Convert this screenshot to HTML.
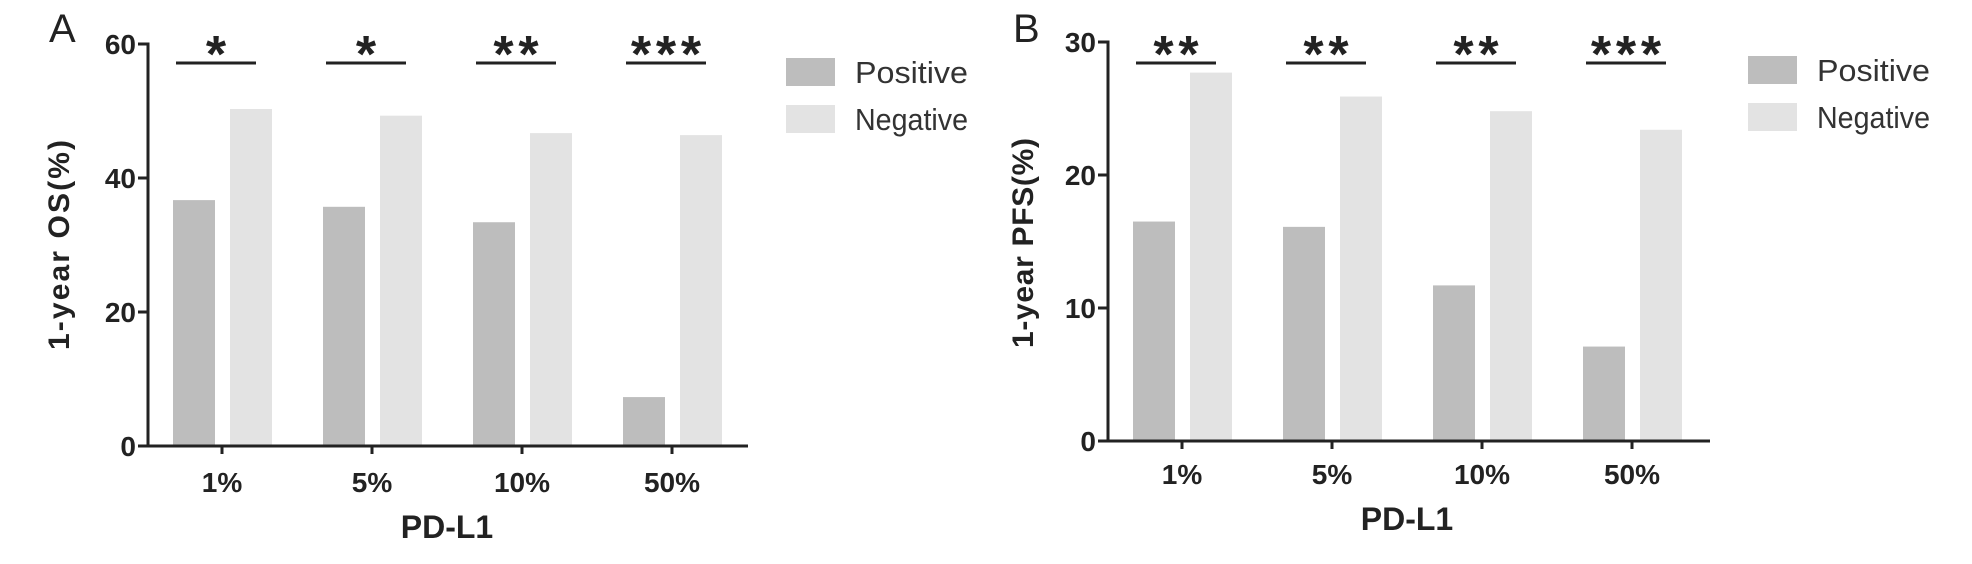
<!DOCTYPE html>
<html><head><meta charset="utf-8">
<style>
html,body{margin:0;padding:0;background:#fff;}
svg{display:block;font-family:"Liberation Sans",Arial,sans-serif;}
</style></head>
<body>
<svg id="chart" width="1972" height="564" viewBox="0 0 1972 564"></svg>
<script>
const categories = ["1%", "5%", "10%", "50%"];
const osPositive = [36.7, 35.7, 33.4, 7.3];
const osNegative = [50.3, 49.3, 46.7, 46.4];
const pfsPositive = [16.5, 16.1, 11.7, 7.1];
const pfsNegative = [27.7, 25.9, 24.8, 23.4];
const osStars = ["*", "*", "**", "***"];
const pfsStars = ["**", "**", "**", "***"];
const osTicks = [0, 20, 40, 60];
const pfsTicks = [0, 10, 20, 30];

const NS = "http://www.w3.org/2000/svg";
const svg = document.getElementById("chart");
function mk(tag, attrs, parent) {
  const e = document.createElementNS(NS, tag);
  for (const k in attrs) e.setAttribute(k, attrs[k]);
  (parent || svg).appendChild(e);
  return e;
}

function panel(cfg) {
  const g = mk("g", {});
  
  
  const yScale = v => cfg.y0 - (v / cfg.yMax) * (cfg.y0 - cfg.yTop);
  const xTick = i => cfg.firstTick + i * cfg.step;

  const L = mk("text", {x: cfg.letterX, y: 42, "font-size": 40, fill: "#222"}, g);
  L.textContent = cfg.letter;
  
  

  categories.forEach((c, i) => {
    const t = xTick(i);
    const bp = mk("rect", {x: t - 49, y: yScale(cfg.pos[i]), width: 42, height: cfg.y0 - yScale(cfg.pos[i]), fill: "#bdbdbd"}, g);
    
    
    const bn = mk("rect", {x: t + 8, y: yScale(cfg.neg[i]), width: 42, height: cfg.y0 - yScale(cfg.neg[i]), fill: "#e3e3e3"}, g);
    
    

    const sl = mk("line", {x1: t - 46, x2: t + 34, y1: 63, y2: 63, stroke: "#222", "stroke-width": 3}, g);
    
    
    const n = cfg.stars[i].length;
    for (let k = 0; k < n; k++) {
      const cx = t - 6 + (k - (n - 1) / 2) * 25;
      const s = mk("text", {x: cx, y: 72, "font-size": 52, "font-weight": "bold", "text-anchor": "middle", fill: "#222"}, g);
      s.textContent = "*";
      
      
    }

    const xt = mk("line", {x1: t, x2: t, y1: cfg.y0, y2: cfg.y0 + 8, stroke: "#222", "stroke-width": 3}, g);
    
    
    const xl = mk("text", {x: t, y: cfg.xLabY, "font-size": 28, "font-weight": "bold", "text-anchor": "middle", fill: "#222"}, g);
    xl.textContent = c;
    
    
  });

  const ya = mk("line", {x1: cfg.axisX, x2: cfg.axisX, y1: cfg.yTop - 1.5, y2: cfg.y0 + 1.5, stroke: "#222", "stroke-width": 3}, g);
  
  
  const xa = mk("line", {x1: cfg.axisX - 10, x2: cfg.xEnd, y1: cfg.y0, y2: cfg.y0, stroke: "#222", "stroke-width": 3}, g);
  
  

  cfg.ticks.forEach(v => {
    const y = yScale(v);
    const tk = mk("line", {x1: cfg.axisX - 10, x2: cfg.axisX, y1: y, y2: y, stroke: "#222", "stroke-width": 3}, g);
    
    
    const tl = mk("text", {x: cfg.axisX - 12, y: y + 10, "font-size": 28, "font-weight": "bold", "text-anchor": "end", fill: "#222"}, g);
    tl.textContent = v;
    
    
  });

  const yt = mk("text", {x: 0, y: 0, "font-size": 30, "font-weight": "bold", "text-anchor": "middle", fill: "#222",
    transform: "translate(" + (cfg.yTitleX + 11) + "," + cfg.yTitleY + ") rotate(-90)", textLength: 210, lengthAdjust: "spacing"}, g);
  yt.textContent = cfg.yTitle;
  
  
  const xT = mk("text", {x: cfg.firstTick + 1.5 * cfg.step, y: cfg.xTitleY, "font-size": 32, "font-weight": "bold", "text-anchor": "middle", fill: "#222"}, g);
  xT.textContent = "PD-L1";
  
  

  const lg = mk("g", {}, g);
  
  
  [["Positive", "#bdbdbd", cfg.legY], ["Negative", "#e3e3e3", cfg.legY + 47]].forEach(([lab, col, y]) => {
    const sw = mk("rect", {x: cfg.legX, y: y, width: 49, height: 28, fill: col}, lg);
    
    
    const lt = mk("text", {x: cfg.legX + 69, y: y + 25, "font-size": 31, fill: "#333", textLength: 113, lengthAdjust: "spacingAndGlyphs"}, lg);
    lt.textContent = lab;
    
    
  });
}

panel({name: "panel-a-os", letter: "A", letterX: 49, axisX: 148, y0: 446, yTop: 44, yMax: 60,
  firstTick: 222, step: 150, xEnd: 748, pos: osPositive, neg: osNegative, stars: osStars, ticks: osTicks,
  yTitle: "1-year OS(%)", yTitleX: 58, yTitleY: 245, xLabY: 492, xTitleY: 538, legX: 786, legY: 58});
panel({name: "panel-b-pfs", letter: "B", letterX: 1013, axisX: 1108, y0: 441, yTop: 42, yMax: 30,
  firstTick: 1182, step: 150, xEnd: 1710, pos: pfsPositive, neg: pfsNegative, stars: pfsStars, ticks: pfsTicks,
  yTitle: "1-year PFS(%)", yTitleX: 1022, yTitleY: 243, xLabY: 484, xTitleY: 530, legX: 1748, legY: 56});
</script>
</body></html>
